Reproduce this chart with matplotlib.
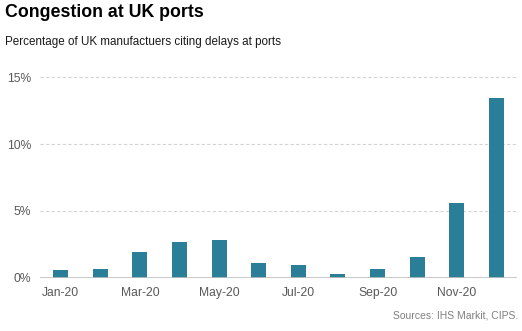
import matplotlib
matplotlib.use('Agg')
import matplotlib.pyplot as plt

months = ['Jan-20', 'Feb-20', 'Mar-20', 'Apr-20', 'May-20', 'Jun-20',
          'Jul-20', 'Aug-20', 'Sep-20', 'Oct-20', 'Nov-20', 'Dec-20']
delays = [0.55, 0.65, 1.9, 2.7, 2.8, 1.1, 0.93, 0.3, 0.67, 1.53, 5.6, 13.45]
yticks = [0, 5, 10, 15]

plt.rcParams['font.family'] = ['Liberation Sans', 'DejaVu Sans']

fig = plt.figure(figsize=(5.22, 3.31), dpi=100)
ax = fig.add_axes([40 / 522, 1 - 277.7 / 331, 477 / 522, (277.7 - 73.3) / 331])

x = list(range(len(months)))
ax.bar(x, delays, width=0.38, color='#2b7e98', zorder=3)

ax.set_xlim(-0.52, len(months) - 0.48)
ax.set_ylim(0, 15.3)
ax.set_yticks(yticks)
ax.set_yticklabels(['{}%'.format(v) for v in yticks])
ax.set_xticks(x[::2])
ax.set_xticklabels(months[::2])

ax.grid(axis='y', linestyle=(0, (3, 2)), color='#d4d4d4', linewidth=0.8, zorder=0)
ax.axhline(0, color='#bfbfbf', linewidth=1.2, zorder=4)
for s in ax.spines.values():
    s.set_visible(False)
ax.tick_params(length=0, labelsize=8.7, labelcolor='#595959')
ax.tick_params(axis='y', pad=6.5)
ax.tick_params(axis='x', pad=6.5)

fig.text(5 / 522, 1 - 4 / 331, 'Congestion at UK ports', fontsize=12.8,
         fontweight='bold', color='#000000', va='top', ha='left')
fig.text(5 / 522, 1 - 36 / 331, 'Percentage of UK manufactuers citing delays at ports',
         fontsize=8.4, color='#1a1a1a', va='top', ha='left')
fig.text(518 / 522, 1 - 316 / 331, 'Sources: IHS Markit, CIPS.', fontsize=7.5,
         color='#7f7f7f', va='center', ha='right')

fig.savefig('out.png', dpi=100)
